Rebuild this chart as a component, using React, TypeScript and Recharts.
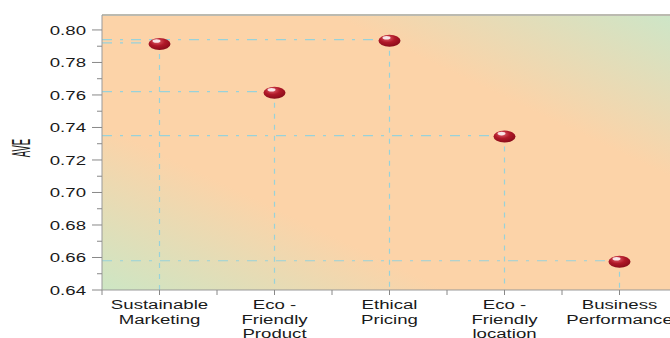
import {
  ReferenceArea,
  ReferenceLine,
  Scatter,
  ScatterChart,
  XAxis,
  YAxis,
} from "recharts";

const categories = [
  "Sustainable Marketing",
  "Eco - Friendly Product",
  "Ethical Pricing",
  "Eco - Friendly location",
  "Business Performance",
];
const categoryLines = [
  ["Sustainable", "Marketing"],
  ["Eco -", "Friendly", "Product"],
  ["Ethical", "Pricing"],
  ["Eco -", "Friendly", "location"],
  ["Business", "Performance"],
];
const aveValues = [0.792, 0.762, 0.794, 0.735, 0.658];

const xTicks = [0, 0.5, 1, 1.5, 2, 2.5, 3, 3.5, 4, 4.5, 5];
const yTicks = [
  0.64, 0.65, 0.66, 0.67, 0.68, 0.69, 0.7, 0.71, 0.72, 0.73, 0.74, 0.75, 0.76,
  0.77, 0.78, 0.79, 0.8,
];
const yLabelTicks = [0.64, 0.66, 0.68, 0.7, 0.72, 0.74, 0.76, 0.78, 0.8];

const Y_MIN = 0.64;
const Y_MAX = 0.8092;

const data = categories.map((name, i) => ({ name, x: i + 0.5, ave: aveValues[i] }));

const FONT = "'Liberation Sans', Arial, sans-serif";
const STRETCH = 1.38;

function XTick({ x, y, payload }: any) {
  const idx = Math.floor(payload.value);
  if (payload.value % 1 === 0 || !categoryLines[idx]) return null;
  return (
    <g>
      {categoryLines[idx].map((line, j) => (
        <text
          key={j}
          transform={`translate(${x},${y + 12 + j * 14.5}) scale(${STRETCH},1)`}
          textAnchor="middle"
          fontSize={13.5}
          fontFamily={FONT}
          fill="#1a1a1a"
        >
          {line}
        </text>
      ))}
    </g>
  );
}

function YTick({ x, y, payload }: any) {
  const v = Math.round(payload.value * 100) / 100;
  const major = yLabelTicks.some((t) => Math.abs(t - v) < 1e-6);
  return (
    <g>
      <line x1={x - (major ? 10 : 5)} x2={x} y1={y} y2={y} stroke="#888" />
      {major && (
        <text
          transform={`translate(${x - 16},${y + 5}) scale(${STRETCH},1)`}
          textAnchor="end"
          fontSize={13.5}
          fontFamily={FONT}
          fill="#1a1a1a"
        >
          {v.toFixed(2)}
        </text>
      )}
    </g>
  );
}

function Bead({ cx, cy }: any) {
  return (
    <g>
      <ellipse cx={cx} cy={cy + 1} rx={11} ry={6} fill="url(#beadFill)" />
      <ellipse cx={cx - 3} cy={cy - 2} rx={4} ry={1.8} fill="#fff" opacity={0.85} />
    </g>
  );
}

export default function App() {
  return (
    <div style={{ position: "absolute", left: 0, top: 0, width: 670, height: 338, overflow: "hidden", background: "#fff" }}>
      <ScatterChart width={680} height={338} margin={{ top: 15, right: 3, bottom: 0, left: 0 }}>
        <defs>
          <linearGradient id="plotBg" x1="0" y1="1" x2="1" y2="0">
            <stop offset="0" stopColor="#cde6c4" />
            <stop offset="0.3" stopColor="#fcd3a8" />
            <stop offset="0.7" stopColor="#fcd3a8" />
            <stop offset="1" stopColor="#cce6c8" />
          </linearGradient>
          <radialGradient id="beadFill" cx="0.4" cy="0.3" r="0.7">
            <stop offset="0" stopColor="#e0606a" />
            <stop offset="0.5" stopColor="#b01828" />
            <stop offset="1" stopColor="#8a0c1a" />
          </radialGradient>
        </defs>
        <XAxis
          type="number"
          dataKey="x"
          domain={[0, 5]}
          ticks={xTicks}
          interval={0}
          height={48}
          tickSize={5}
          tickLine={{ stroke: "#888" }}
          axisLine={{ stroke: "#999" }}
          tick={<XTick />}
        />
        <YAxis
          type="number"
          dataKey="ave"
          domain={[Y_MIN, Y_MAX]}
          ticks={yTicks}
          interval={0}
          width={102}
          tickSize={0}
          tickMargin={0}
          tickLine={false}
          axisLine={{ stroke: "#999" }}
          tick={<YTick />}
          label={{
            value: "AVE",
            position: "insideLeft",
            content: () => (
              <text
                transform={`translate(30,148) rotate(-90) scale(0.5,1.35)`}
                textAnchor="middle"
                fontSize={19}
                fontFamily={FONT}
                fill="#1a1a1a"
              >
                AVE
              </text>
            ),
          }}
        />
        <ReferenceArea
          x1={0}
          x2={5}
          y1={Y_MIN}
          y2={Y_MAX}
          fill="url(#plotBg)"
          fillOpacity={1}
          stroke="none"
        />
        {data.map((d) => (
          <ReferenceLine
            key={`h-${d.name}`}
            segment={[
              { x: 0, y: d.ave },
              { x: d.x, y: d.ave },
            ]}
            stroke="#98d2da"
            strokeWidth={1.2}
            strokeDasharray="10 8 3 8"
          />
        ))}
        {data.map((d) => (
          <ReferenceLine
            key={`v-${d.name}`}
            segment={[
              { x: d.x, y: d.ave },
              { x: d.x, y: Y_MIN },
            ]}
            stroke="#98d2da"
            strokeWidth={1.2}
            strokeDasharray="5 6"
          />
        ))}
        <ReferenceLine y={Y_MAX} stroke="#bbbab0" strokeWidth={2} />
        <Scatter data={data} dataKey="ave" shape={<Bead />} isAnimationActive={false} />
      </ScatterChart>
    </div>
  );
}
